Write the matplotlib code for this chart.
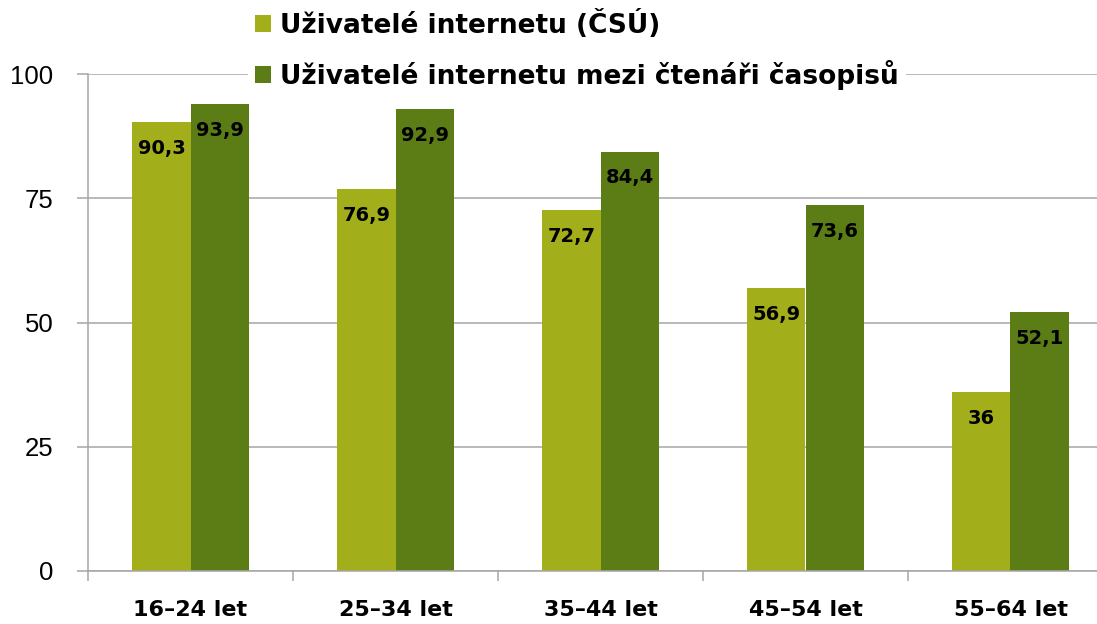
import numpy as np
import matplotlib
matplotlib.use("Agg")
import matplotlib.pyplot as plt
from matplotlib.patches import Patch

categories = ["16–24 let", "25–34 let", "35–44 let", "45–54 let", "55–64 let"]
csu = [90.3, 76.9, 72.7, 56.9, 36]
ctenari = [93.9, 92.9, 84.4, 73.6, 52.1]
series_names = ["Uživatelé internetu (ČSÚ)", "Uživatelé internetu mezi čtenáři časopisů"]
yticks = [0, 25, 50, 75, 100]

light = "#a3ae1b"
dark = "#5c7c16"
grid = "#a6a6a6"

fig = plt.figure(figsize=(10.97, 6.24), dpi=100)
ax = fig.add_axes([88 / 1097, 1 - 571 / 624, 1025 / 1097, 497 / 624])

x = np.arange(len(categories))
w = 0.283
b1 = ax.bar(x - w / 2, csu, width=w, color=light, zorder=2)
b2 = ax.bar(x + w / 2, ctenari, width=w, color=dark, zorder=2)

def fmt(v):
    return f"{v:g}".replace(".", ",")

for bars, vals in ((b1, csu), (b2, ctenari)):
    for r, v in zip(bars, vals):
        ax.annotate(fmt(v), (r.get_x() + r.get_width() / 2, v),
                    xytext=(0, -19), textcoords="offset points",
                    ha="center", va="center", fontsize=14, fontweight="bold",
                    family="DejaVu Sans", color="black", zorder=3)

ax.set_xlim(-0.5, len(categories) - 0.5)
ax.set_ylim(0, 100)
ax.set_yticks(yticks)
ax.set_yticklabels([str(t) for t in yticks], family="Liberation Sans", fontsize=18.5)
ax.yaxis.grid(True, color=grid, linewidth=1.1, zorder=0)
ax.set_axisbelow(True)
ax.tick_params(axis="y", length=8, color=grid, width=1.1, pad=17)

ax.set_xticks(np.arange(len(categories) + 1) - 0.5, minor=True)
ax.set_xticks(x)
ax.set_xticklabels(categories, fontsize=16, fontweight="bold", family="DejaVu Sans")
ax.tick_params(axis="x", which="major", length=0, pad=21)
ax.tick_params(axis="x", which="minor", length=7, color=grid, width=1.1)

for s in ("top", "right"):
    ax.spines[s].set_visible(False)
for s in ("left", "bottom"):
    ax.spines[s].set_color(grid)
    ax.spines[s].set_linewidth(1.1)

handles = [Patch(facecolor=light), Patch(facecolor=dark)]
leg = fig.legend(handles, series_names, loc="upper left",
                 bbox_to_anchor=(248 / 1097, 0.995), frameon=True,
                 prop={"family": "DejaVu Sans", "weight": "bold", "size": 19},
                 handlelength=0.62, handleheight=0.62, handletextpad=0.35,
                 labelspacing=0.8, borderpad=0.25, borderaxespad=0)
leg.get_frame().set_facecolor("white")
leg.get_frame().set_edgecolor("none")
leg.get_frame().set_alpha(1)

fig.savefig("out.png", dpi=100)
